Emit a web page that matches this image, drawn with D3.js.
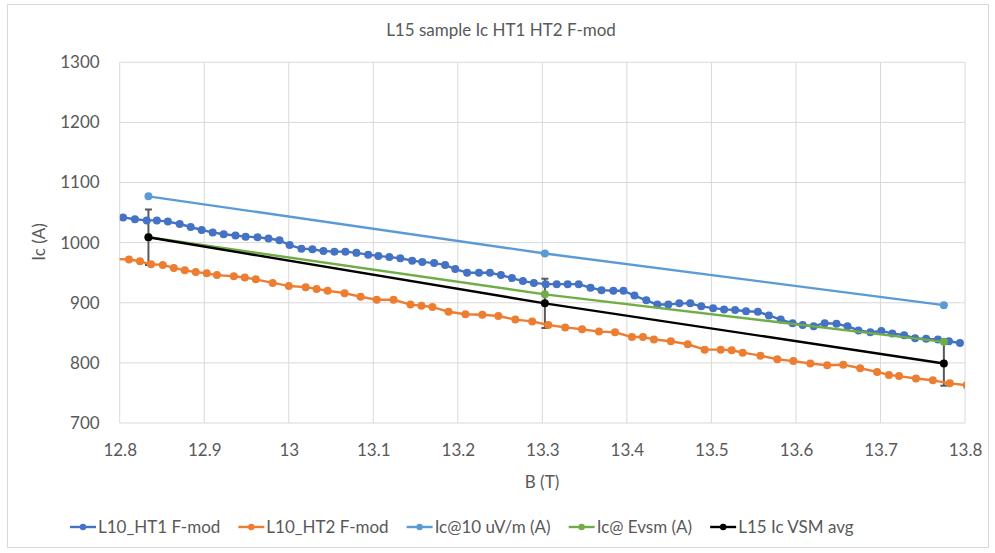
<!DOCTYPE html>
<html>
<head>
<meta charset="utf-8">
<script src="https://cdn.jsdelivr.net/npm/d3@7"></script>
<style>
  body { margin: 0; background: #ffffff; }
  text { font-family: Lato, "Liberation Sans", sans-serif; fill: #595959; }
</style>
</head>
<body>
<div id="chart"></div>
<script>
var chartTitle = "L15 sample Ic HT1 HT2 F-mod";
var xTitle = "B (T)";
var yTitle = "Ic (A)";
var xTicks = [12.8, 12.9, 13.0, 13.1, 13.2, 13.3, 13.4, 13.5, 13.6, 13.7, 13.8];
var yTicks = [700, 800, 900, 1000, 1100, 1200, 1300];
var seriesNames = ["L10_HT1 F-mod", "L10_HT2 F-mod", "Ic@10 uV/m (A)", "Ic@ Evsm (A)", "L15 Ic VSM avg"];
var seriesColors = ["#4472c4", "#ed7d31", "#5b9bd5", "#70ad47", "#000000"];

// L10_HT1 F-mod
var ht1B = [12.804,12.818,12.832,12.844,12.857,12.871,12.884,12.897,12.910,12.923,
  12.937,12.949,12.963,12.976,12.989,13.001,13.015,13.028,13.041,13.054,
  13.067,13.080,13.094,13.106,13.119,13.132,13.146,13.158,13.172,13.185,
  13.197,13.211,13.225,13.238,13.251,13.264,13.277,13.290,13.304,13.317,
  13.330,13.343,13.357,13.370,13.384,13.396,13.409,13.423,13.436,13.449,
  13.462,13.475,13.488,13.502,13.515,13.528,13.541,13.555,13.568,13.582,
  13.596,13.608,13.621,13.634,13.648,13.661,13.674,13.688,13.701,13.714,
  13.728,13.741,13.754,13.768,13.781,13.794];
var ht1Ic = [1042,1039,1037,1037,1035,1031,1026,1021,1017,1014,
  1012,1010,1009,1007,1004,996,990,989,986,985,
  985,983,980,978,976,974,970,968,966,963,
  956,950,950,950,946,941,936,933,931,931,
  931,931,925,921,920,920,912,904,897,897,
  899,899,894,891,889,888,886,885,879,872,
  866,863,861,866,865,861,854,851,853,849,
  846,841,840,839,836,833];

// L10_HT2 F-mod
var ht2B = [12.790,12.811,12.824,12.837,12.851,12.864,12.877,12.890,12.903,12.915,
  12.935,12.948,12.961,12.981,13.000,13.020,13.033,13.046,13.066,13.085,
  13.104,13.124,13.144,13.157,13.170,13.189,13.209,13.229,13.248,13.268,
  13.288,13.307,13.327,13.347,13.367,13.386,13.406,13.419,13.432,13.452,
  13.472,13.492,13.511,13.524,13.537,13.558,13.578,13.597,13.617,13.637,
  13.656,13.676,13.696,13.710,13.722,13.742,13.762,13.782,13.802];
var ht2Ic = [973,972,969,964,963,958,954,951,949,946,
  944,942,939,933,928,926,923,920,916,910,
  905,905,897,895,893,885,881,880,878,872,
  869,863,859,856,852,851,843,843,839,836,
  831,822,822,821,817,812,806,803,799,796,
  797,791,785,780,778,774,771,766,763];

// L15 VSM points
var vsmB = [12.834, 13.303, 13.775];
var ic10uV = [1077, 982, 896];
var icEvsm = [1009, 914, 835];
var vsmAvg = [1009, 899, 799];
var vsmErr = [46, 41, 37];

var width = 995, height = 553;
var plotLeft = 119.7, plotRight = 965, plotTop = 62.3, plotBottom = 423;

var svg = d3.select("#chart").append("svg")
  .attr("width", width).attr("height", height);

// chart border
svg.append("rect")
  .attr("x", 7.5).attr("y", 4.5)
  .attr("width", 981).attr("height", 543)
  .attr("fill", "white").attr("stroke", "#d9d9d9").attr("stroke-width", 1);

var x = d3.scaleLinear().domain([12.8, 13.8]).range([plotLeft, plotRight]);
var y = d3.scaleLinear().domain([700, 1300]).range([plotBottom, plotTop]);

// gridlines
svg.append("g").selectAll("line")
  .data(yTicks).enter().append("line")
  .attr("x1", plotLeft).attr("x2", plotRight)
  .attr("y1", d => y(d)).attr("y2", d => y(d))
  .attr("stroke", "#d9d9d9").attr("stroke-width", 1);
svg.append("g").selectAll("line")
  .data(xTicks).enter().append("line")
  .attr("x1", d => x(d)).attr("x2", d => x(d))
  .attr("y1", plotTop).attr("y2", plotBottom)
  .attr("stroke", "#d9d9d9").attr("stroke-width", 1);

// axes labels
svg.append("g")
  .attr("transform", "translate(" + plotLeft + ",0)")
  .call(d3.axisLeft(y).tickValues(yTicks).tickSize(0).tickPadding(20).tickFormat(d3.format("d")));
svg.append("g")
  .attr("transform", "translate(0," + plotBottom + ")")
  .call(d3.axisBottom(x).tickValues(xTicks).tickSize(0).tickPadding(21)
    .tickFormat(function(d) { return String(+d.toFixed(1)); }));
svg.selectAll(".domain").remove();
svg.selectAll(".tick text")
  .style("font-family", "Lato, 'Liberation Sans', sans-serif")
  .style("font-size", "17px")
  .attr("fill", "#595959");

// titles
svg.append("text")
  .attr("x", 501).attr("y", 36)
  .attr("text-anchor", "middle")
  .style("font-size", "17px")
  .text(chartTitle);
svg.append("text")
  .attr("x", 542).attr("y", 488)
  .attr("text-anchor", "middle")
  .style("font-size", "17px")
  .text(xTitle);
svg.append("text")
  .attr("transform", "translate(45,242) rotate(-90)")
  .attr("text-anchor", "middle")
  .style("font-size", "17px")
  .text(yTitle);

// clip to plot area
svg.append("clipPath").attr("id", "plotClip")
  .append("rect").attr("x", plotLeft).attr("y", plotTop)
  .attr("width", plotRight - plotLeft).attr("height", plotBottom - plotTop);
var plot = svg.append("g").attr("clip-path", "url(#plotClip)");

// error bars of the VSM average
var err = plot.append("g").selectAll("g")
  .data(vsmB).enter().append("g");
err.append("line")
  .attr("x1", d => x(d)).attr("x2", d => x(d))
  .attr("y1", (d, i) => y(vsmAvg[i] + vsmErr[i]))
  .attr("y2", (d, i) => y(vsmAvg[i] - vsmErr[i]))
  .attr("stroke", "#595959").attr("stroke-width", 2);
[1, -1].forEach(function(s) {
  err.append("line")
    .attr("x1", d => x(d) - 3.5).attr("x2", d => x(d) + 3.5)
    .attr("y1", (d, i) => y(vsmAvg[i] + s * vsmErr[i]))
    .attr("y2", (d, i) => y(vsmAvg[i] + s * vsmErr[i]))
    .attr("stroke", "#595959").attr("stroke-width", 2);
});

var series = [
  { b: ht1B, v: ht1Ic },
  { b: ht2B, v: ht2Ic },
  { b: vsmB, v: ic10uV },
  { b: vsmB, v: icEvsm },
  { b: vsmB, v: vsmAvg }
];

var line = d3.line().x(d => x(d[0])).y(d => y(d[1]));

series.forEach(function(s, k) {
  var pts = s.b.map((b, i) => [b, s.v[i]]);
  plot.append("path")
    .datum(pts)
    .attr("d", line)
    .attr("fill", "none")
    .attr("stroke", seriesColors[k])
    .attr("stroke-width", 2.4)
    .attr("stroke-linejoin", "round");
  plot.append("g").selectAll("circle")
    .data(pts).enter().append("circle")
    .attr("cx", d => x(d[0])).attr("cy", d => y(d[1]))
    .attr("r", 4)
    .attr("fill", seriesColors[k]);
});

// legend
var legend = svg.append("g").attr("transform", "translate(0,527)");
var lx = 70;
seriesNames.forEach(function(name, k) {
  var item = legend.append("g").attr("transform", "translate(" + lx + ",0)");
  item.append("line").attr("x1", 0).attr("x2", 26).attr("y1", 0).attr("y2", 0)
    .attr("stroke", seriesColors[k]).attr("stroke-width", 2.4);
  item.append("circle").attr("cx", 13).attr("cy", 0).attr("r", 3.2)
    .attr("fill", seriesColors[k]);
  var t = item.append("text").attr("x", 28).attr("y", 6)
    .style("font-size", "17px")
    .text(name);
  lx += 28 + t.node().getComputedTextLength() + 18;
});
</script>
</body>
</html>
